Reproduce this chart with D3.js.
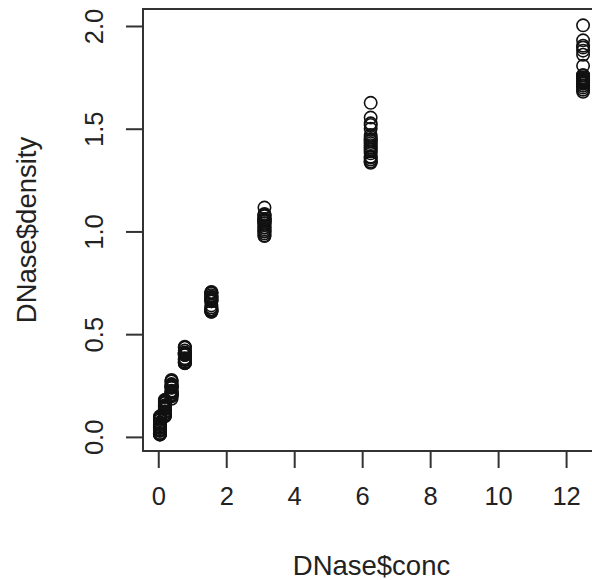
<!DOCTYPE html>
<html><head><meta charset="utf-8">
<script src="https://cdn.jsdelivr.net/npm/d3@7"></script>
<style>body{margin:0;background:#fff}svg{display:block}</style>
</head><body>
<script>
const concLevels = [0.04882812, 0.1953125, 0.390625, 0.78125, 1.5625, 3.125, 6.25, 12.5];
const dens_c1 = [0.017,0.018,0.045,0.050,0.070,0.068,0.011,0.016,0.047,0.057,0.062,0.046,0.012,0.018,0.035,0.043,0.082,0.093,0.100,0.089,0.029,0.034];
const dens_c2 = [0.121,0.124,0.137,0.123,0.173,0.165,0.100,0.104,0.136,0.148,0.167,0.154,0.104,0.111,0.136,0.144,0.180,0.179,0.152,0.147,0.111,0.121];
const dens_c3 = [0.206,0.215,0.225,0.207,0.277,0.248,0.200,0.203,0.240,0.240,0.272,0.254,0.186,0.197,0.223,0.246,0.270,0.257,0.243,0.240,0.206,0.220];
const dens_c4 = [0.377,0.374,0.401,0.383,0.434,0.410,0.363,0.366,0.400,0.398,0.420,0.410,0.359,0.360,0.407,0.408,0.435,0.439,0.400,0.403,0.360,0.375];
const dens_c5 = [0.614,0.609,0.672,0.681,0.703,0.664,0.610,0.620,0.660,0.680,0.700,0.690,0.610,0.620,0.630,0.670,0.700,0.705,0.660,0.680,0.620,0.640];
const dens_c6 = [1.019,1.001,1.116,1.078,1.075,1.059,0.978,1.010,1.040,1.060,1.060,1.050,0.980,1.000,1.030,1.040,1.080,1.085,1.050,1.055,0.990,1.020];
const dens_c7 = [1.334,1.364,1.554,1.526,1.518,1.447,1.340,1.360,1.430,1.440,1.460,1.470,1.340,1.380,1.400,1.420,1.626,1.500,1.410,1.450,1.350,1.390];
const dens_c8 = [1.730,1.710,2.003,1.904,1.860,1.930,1.700,1.720,1.760,1.740,1.806,1.750,1.680,1.710,1.720,1.735,1.880,1.895,1.745,1.760,1.690,1.725];
const xTicks = [0, 2, 4, 6, 8, 10, 12];
const yTicks = [0.0, 0.5, 1.0, 1.5, 2.0];
const xLabel = "DNase$conc";
const yLabel = "DNase$density";

const densByConc = [dens_c1, dens_c2, dens_c3, dens_c4, dens_c5, dens_c6, dens_c7, dens_c8];
const points = [];
concLevels.forEach((c, i) => densByConc[i].forEach(d => points.push({conc: c, density: d})));

const W = 592, H = 580;
const mLeft = 143, mRight = 600, mTop = 9, mBottom = 451;

const xExt = d3.extent(points, d => d.conc);
const yExt = d3.extent(points, d => d.density);
const xPad = (xExt[1] - xExt[0]) * 0.04, yPad = (yExt[1] - yExt[0]) * 0.04;
const x = d3.scaleLinear().domain([xExt[0] - xPad, xExt[1] + xPad]).range([mLeft, mRight]);
const y = d3.scaleLinear().domain([yExt[0] - yPad, yExt[1] + yPad]).range([mBottom, mTop]);

const svg = d3.select("body").append("svg").attr("width", W).attr("height", H)
  .style("font-family", "'Liberation Sans', Arial, sans-serif");

const ink = "#333";

// points
svg.append("g").selectAll("circle").data(points).join("circle")
  .attr("cx", d => x(d.conc)).attr("cy", d => y(d.density)).attr("r", 6.2)
  .attr("fill", "none").attr("stroke", "#111").attr("stroke-width", 1.6);

// box
svg.append("rect").attr("x", mLeft).attr("y", mTop).attr("width", mRight - mLeft).attr("height", mBottom - mTop)
  .attr("fill", "none").attr("stroke", ink).attr("stroke-width", 2);

// x axis
const xAxis = d3.axisBottom(x).tickValues(xTicks).tickSize(17).tickPadding(19).tickFormat(d3.format("d"));
const gx = svg.append("g").attr("transform", `translate(0,${mBottom})`).call(xAxis);
gx.select(".domain").attr("d", `M${x(xTicks[0])},0H${x(xTicks[xTicks.length-1])}`).attr("stroke", ink).attr("stroke-width", 2);
gx.selectAll(".tick line").attr("stroke", ink).attr("stroke-width", 2);
gx.selectAll(".tick text").attr("font-size", 25.5).attr("fill", "#222").attr("font-family", "'Liberation Sans', Arial, sans-serif");

// y axis
const yAxis = d3.axisLeft(y).tickValues(yTicks).tickSize(17).tickFormat(d3.format(".1f"));
const gy = svg.append("g").attr("transform", `translate(${mLeft},0)`).call(yAxis);
gy.select(".domain").attr("d", `M0,${y(yTicks[0])}V${y(yTicks[yTicks.length-1])}`).attr("stroke", ink).attr("stroke-width", 2);
gy.selectAll(".tick line").attr("stroke", ink).attr("stroke-width", 2);
gy.selectAll(".tick text")
  .attr("font-size", 25.5).attr("fill", "#222").attr("font-family", "'Liberation Sans', Arial, sans-serif")
  .attr("x", null).attr("dy", null)
  .attr("text-anchor", "middle")
  .attr("transform", "translate(-40,0) rotate(-90)");

// titles
svg.append("text").attr("x", (mLeft + mRight) / 2).attr("y", 575)
  .attr("text-anchor", "middle").attr("font-size", 27.5).attr("fill", "#222").text(xLabel);
svg.append("text").attr("transform", `translate(36,${(mTop + mBottom) / 2}) rotate(-90)`)
  .attr("text-anchor", "middle").attr("font-size", 27.5).attr("fill", "#222").text(yLabel);
</script>
</body></html>
